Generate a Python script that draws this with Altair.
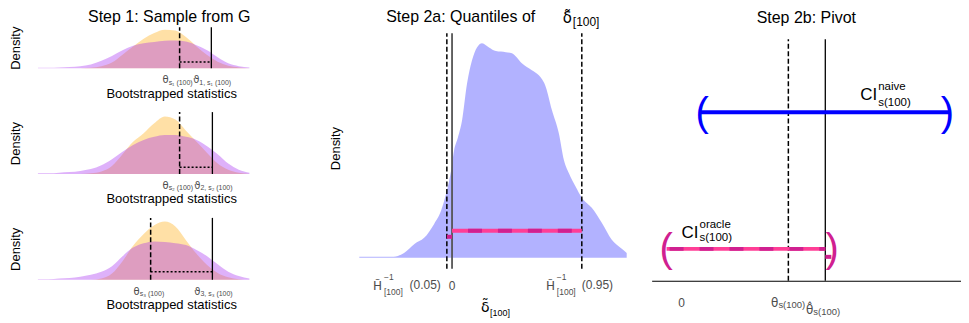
import altair as alt
import pandas as pd

FONT = "Liberation Sans"
MATH = "DejaVu Sans"
GREY = "#4D4D4D"
ORANGE = "#FFA500"
PURPLE = "#A020F0"
BLUE = "#0000FF"
VIOLETRED = "#D02090"
VIOLETRED1 = "#FF3E96"

# ---------------- Step 1: bootstrapped densities ----------------
u_grid = [0, 0.5, 1, 1.5, 2, 2.5, 3, 3.5, 4, 4.5, 5, 5.5, 6, 6.5, 7, 7.5, 8, 8.5, 9, 9.5, 10]
purple_1 = [0.01, 0.01, 0.02, 0.03, 0.05, 0.09, 0.18, 0.30, 0.44, 0.55, 0.61, 0.64, 0.67, 0.68, 0.65, 0.56, 0.44, 0.27, 0.12, 0.05, 0.02]
orange_1 = [0, 0, 0, 0, 0, 0.01, 0.05, 0.14, 0.33, 0.53, 0.72, 0.86, 0.94, 0.92, 0.76, 0.53, 0.32, 0.16, 0.06, 0.02, 0]
purple_2 = [0.01, 0.01, 0.02, 0.03, 0.05, 0.08, 0.14, 0.24, 0.36, 0.47, 0.55, 0.60, 0.63, 0.63, 0.60, 0.55, 0.45, 0.32, 0.17, 0.07, 0.02]
orange_2 = [0, 0, 0, 0, 0, 0.01, 0.04, 0.13, 0.32, 0.52, 0.66, 0.82, 0.93, 0.88, 0.70, 0.52, 0.34, 0.17, 0.07, 0.02, 0]
purple_3 = [0.01, 0.01, 0.02, 0.03, 0.05, 0.08, 0.13, 0.22, 0.38, 0.52, 0.59, 0.62, 0.61, 0.59, 0.56, 0.48, 0.38, 0.25, 0.13, 0.06, 0.02]
orange_3 = [0, 0, 0, 0, 0, 0, 0.02, 0.10, 0.30, 0.55, 0.74, 0.88, 0.94, 0.86, 0.64, 0.42, 0.24, 0.11, 0.04, 0.01, 0]
theta_pos = [6.7, 6.7, 5.33]
vartheta_pos = [8.2, 8.25, 8.25]
dotted_y = [0.15, 0.11, 0.13]
sub_digits = ["\u2081", "\u2082", "\u2083"]

# ---------------- Step 2a: density of delta ----------------
delta_x = [-0.715, -0.45, -0.37, -0.29, -0.215, -0.138, -0.085, -0.046, -0.008, 0.015, 0.045,
           0.077, 0.115, 0.154, 0.192, 0.231, 0.285, 0.338, 0.415, 0.462, 0.538, 0.615, 0.669,
           0.723, 0.769, 0.823, 0.862, 0.9, 0.954, 1.0, 1.077, 1.154, 1.231, 1.308, 1.346]
delta_dens = [0.005, 0.005, 0.023, 0.065, 0.093, 0.158, 0.219, 0.298, 0.405, 0.498, 0.56,
              0.64, 0.81, 0.92, 0.98, 1.0, 0.98, 0.963, 0.958, 0.953, 0.907, 0.874, 0.85,
              0.795, 0.69, 0.58, 0.456, 0.395, 0.33, 0.28, 0.233, 0.163, 0.084, 0.042, 0.023]
q05 = -0.04
q95 = 1.0
bar_y = 0.126
seg_y = 0.098

# ---------------- Step 2b: pivot ----------------
theta = 0.743
theta_hat = 1.0
naive_ci = [0.132, 1.868]
naive_y = 0.698
oracle_ci = [-0.104, 1.0]
oracle_y = 0.132
oracle_seg = [1.0, 1.042]
oracle_seg_y = 0.099


def txt(df, xs, ys, xax, yax, field, size, color, align, dx, dy, font=FONT, weight="normal"):
    return alt.Chart(df).mark_text(
        font=font, fontSize=size, color=color, align=align, baseline="alphabetic",
        dx=dx, dy=dy, fontWeight=weight
    ).encode(
        x=alt.X("x:Q", scale=xs, axis=xax),
        y=alt.Y("y:Q", scale=ys, axis=yax),
        text=alt.Text(f"{field}:N"),
    )


def title_axis(title, pad):
    return alt.Axis(title=title, labels=False, ticks=False, domain=False, grid=False,
                    titleFont=FONT, titleFontSize=13, titleFontWeight="normal",
                    titleColor="black", titlePadding=pad)


def step1_panel(k, purple, orange, th, vt, dot_y, h):
    xs = alt.Scale(domain=[0, 12.6], nice=False, zero=False)
    ys = alt.Scale(domain=[0, 1], nice=False, zero=False)
    xax = title_axis("Bootstrapped statistics", 19)
    yax = title_axis("Density", 15)
    df_o = pd.DataFrame({"u": u_grid, "dens": orange})
    df_p = pd.DataFrame({"u": u_grid, "dens": purple})
    a_o = alt.Chart(df_o).mark_area(color=ORANGE, opacity=0.35, interpolate="monotone").encode(
        x=alt.X("u:Q", scale=xs, axis=xax), y=alt.Y("dens:Q", scale=ys, axis=yax))
    a_p = alt.Chart(df_p).mark_area(color=PURPLE, opacity=0.35, interpolate="monotone").encode(
        x=alt.X("u:Q", scale=xs, axis=xax), y=alt.Y("dens:Q", scale=ys, axis=yax))
    ldf = pd.DataFrame({"th": [th], "vt": [vt], "y0": [0], "y1": [1], "dy": [dot_y]})
    dashed = alt.Chart(ldf).mark_rule(color="black", strokeWidth=1.5, strokeDash=[5, 2.5]).encode(
        x=alt.X("th:Q", scale=xs, axis=xax), y=alt.Y("y0:Q", scale=ys, axis=yax), y2="y1:Q")
    solid = alt.Chart(ldf).mark_rule(color="black", strokeWidth=1.3).encode(
        x=alt.X("vt:Q", scale=xs, axis=xax), y=alt.Y("y0:Q", scale=ys, axis=yax), y2="y1:Q")
    dotted = alt.Chart(ldf).mark_rule(color="black", strokeWidth=1.5, strokeDash=[2, 2]).encode(
        x=alt.X("th:Q", scale=xs, axis=xax), x2="vt:Q", y=alt.Y("dy:Q", scale=ys, axis=yax))
    sd = sub_digits[k - 1]
    lab_t = pd.DataFrame({"x": [th], "y": [0], "main": ["\u03b8"], "sub": [f"s{sd} (100)"]})
    lab_v = pd.DataFrame({"x": [vt], "y": [0], "main": ["\u03d1"], "sub": [f"{k}, s{sd} (100)"]})
    layers = [a_o, a_p, dashed, solid, dotted,
              txt(lab_t, xs, ys, xax, yax, "main", 10, GREY, "right", -11, 15, MATH),
              txt(lab_t, xs, ys, xax, yax, "sub", 7, GREY, "left", -11, 16.5),
              txt(lab_v, xs, ys, xax, yax, "main", 10, GREY, "right", -12, 15, MATH),
              txt(lab_v, xs, ys, xax, yax, "sub", 7, GREY, "left", -12, 16.5)]
    return alt.layer(*layers).properties(width=267, height=h)


p1 = step1_panel(1, purple_1, orange_1, theta_pos[0], vartheta_pos[0], dotted_y[0], 41)
p2 = step1_panel(2, purple_2, orange_2, theta_pos[1], vartheta_pos[1], dotted_y[1], 62)
p3 = step1_panel(3, purple_3, orange_3, theta_pos[2], vartheta_pos[2], dotted_y[2], 62)
left = alt.vconcat(p1, p2, p3, spacing=44, bounds="flush",
                   title=alt.TitleParams("Step 1: Sample from G", fontSize=16, font=FONT,
                                         fontWeight="normal", color="black", offset=1,
                                         anchor="middle", dx=12))

# ---------------- middle panel ----------------
xs_m = alt.Scale(domain=[-0.715, 1.346], nice=False, zero=False)
ys_m = alt.Scale(domain=[-0.051, 1.074], nice=False, zero=False)
xax_m = None
yax_m = title_axis("Density", 17)
mdf = pd.DataFrame({"d": delta_x, "dens": delta_dens, "base": [0] * len(delta_x)})
m_area = alt.Chart(mdf).mark_area(color=BLUE, opacity=0.3, interpolate="monotone").encode(
    x=alt.X("d:Q", scale=xs_m, axis=xax_m), y=alt.Y("dens:Q", scale=ys_m, axis=yax_m), y2="base:Q")
q_df = pd.DataFrame({"q": [q05, q95], "lo": [-0.051, -0.051], "hi": [1.0465, 1.0465]})
zero_df = pd.DataFrame({"q": [0.0], "lo": [-0.051], "hi": [1.0465]})
m_dashed = alt.Chart(q_df).mark_rule(color="black", strokeWidth=1.5, strokeDash=[5, 2.5]).encode(
    x=alt.X("q:Q", scale=xs_m, axis=xax_m), y=alt.Y("lo:Q", scale=ys_m, axis=yax_m), y2="hi:Q")
m_zero = alt.Chart(zero_df).mark_rule(color="#555555", strokeWidth=1.8).encode(
    x=alt.X("q:Q", scale=xs_m, axis=xax_m), y=alt.Y("lo:Q", scale=ys_m, axis=yax_m), y2="hi:Q")
bar_df = pd.DataFrame({"lo": [0.0], "hi": [q95], "y": [bar_y]})
seg_df = pd.DataFrame({"lo": [q05], "hi": [0.0], "y": [seg_y]})


def mline(df, color, dash=None, offset=0):
    kw = dict(color=color, strokeWidth=4)
    if dash:
        kw.update(strokeDash=dash, strokeDashOffset=offset)
    return alt.Chart(df).mark_rule(**kw).encode(
        x=alt.X("lo:Q", scale=xs_m, axis=xax_m), x2="hi:Q", y=alt.Y("y:Q", scale=ys_m, axis=yax_m))


lab05 = pd.DataFrame({"x": [q05], "y": [-0.051], "H": ["H\u0303"], "sup": ["\u22121"], "sub": ["[100]"], "p": ["(0.05)"]})
lab95 = pd.DataFrame({"x": [q95], "y": [-0.051], "H": ["H\u0303"], "sup": ["\u22121"], "sub": ["[100]"], "p": ["(0.95)"]})
lab0 = pd.DataFrame({"x": [0.0], "y": [-0.051], "t": ["0"]})
mid_title = pd.DataFrame({"a": ["Step 2a: Quantiles of"], "b": ["\u03b4\u0303"], "c": ["[100]"]})
mid_xtitle = pd.DataFrame({"a": ["\u03b4\u0303"], "b": ["[100]"]})


def vtext(df, field, size, font, x, y, color="black"):
    return alt.Chart(df).mark_text(font=font, fontSize=size, color=color, align="left",
                                   baseline="alphabetic").encode(
        x=alt.value(x), y=alt.value(y), text=f"{field}:N")


m_labels = [
    txt(lab05, xs_m, ys_m, xax_m, yax_m, "H", 12, GREY, "left", -74, 21, MATH),
    txt(lab05, xs_m, ys_m, xax_m, yax_m, "sup", 8.5, GREY, "left", -63, 11),
    txt(lab05, xs_m, ys_m, xax_m, yax_m, "sub", 8.5, GREY, "left", -63, 26),
    txt(lab05, xs_m, ys_m, xax_m, yax_m, "p", 12, GREY, "right", -6, 20.5),
    txt(lab0, xs_m, ys_m, xax_m, yax_m, "t", 12, GREY, "center", 0, 21),
    txt(lab95, xs_m, ys_m, xax_m, yax_m, "H", 12, GREY, "left", -36, 21, MATH),
    txt(lab95, xs_m, ys_m, xax_m, yax_m, "sup", 8.5, GREY, "left", -25, 11),
    txt(lab95, xs_m, ys_m, xax_m, yax_m, "sub", 8.5, GREY, "left", -25, 26),
    txt(lab95, xs_m, ys_m, xax_m, yax_m, "p", 12, GREY, "left", 0, 20.5),
    vtext(mid_xtitle, "a", 14, MATH, 122, 285),
    vtext(mid_xtitle, "b", 9, FONT, 131, 289),
    vtext(mid_title, "a", 16, FONT, 27, -5),
    vtext(mid_title, "b", 15, MATH, 204, -4),
    vtext(mid_title, "c", 12, FONT, 214, -1),
]
mid = alt.layer(m_area, m_dashed, m_zero, mline(bar_df, VIOLETRED1),
                mline(bar_df, VIOLETRED, [14, 16], 14), mline(seg_df, VIOLETRED),
                *m_labels).properties(width=268, height=242)

# ---------------- right panel ----------------
xs_r = alt.Scale(domain=[-0.208, 1.944], nice=False, zero=False)
ys_r = alt.Scale(domain=[0, 1.0496], nice=False, zero=False)
xax_r = alt.Axis(title=None, labels=False, ticks=False, grid=False, domain=True,
                 domainColor="black", domainWidth=1.2)
yax_r = None
r_rules = pd.DataFrame({"x": [theta, theta_hat], "y0": [0, 0], "y1": [1, 1]})
r_dash = alt.Chart(r_rules.iloc[[0]]).mark_rule(color="black", strokeWidth=1.5, strokeDash=[5, 2.5]).encode(
    x=alt.X("x:Q", scale=xs_r, axis=xax_r), y=alt.Y("y0:Q", scale=ys_r, axis=yax_r), y2="y1:Q")
r_solid = alt.Chart(r_rules.iloc[[1]]).mark_rule(color="black", strokeWidth=1.3).encode(
    x=alt.X("x:Q", scale=xs_r, axis=xax_r), y=alt.Y("y0:Q", scale=ys_r, axis=yax_r), y2="y1:Q")
naive_df = pd.DataFrame({"lo": [naive_ci[0]], "hi": [naive_ci[1]], "y": [naive_y]})
oracle_df = pd.DataFrame({"lo": [oracle_ci[0]], "hi": [oracle_ci[1]], "y": [oracle_y]})
oseg_df = pd.DataFrame({"lo": [oracle_seg[0]], "hi": [oracle_seg[1]], "y": [oracle_seg_y]})


def hline(df, color, dash=None, offset=0):
    kw = dict(color=color, strokeWidth=4)
    if dash:
        kw.update(strokeDash=dash, strokeDashOffset=offset)
    return alt.Chart(df).mark_rule(**kw).encode(
        x=alt.X("lo:Q", scale=xs_r, axis=xax_r), x2="hi:Q", y=alt.Y("y:Q", scale=ys_r, axis=yax_r))


paren_naive_l = pd.DataFrame({"x": [naive_ci[0]], "y": [naive_y], "t": ["("]})
paren_naive_r = pd.DataFrame({"x": [naive_ci[1]], "y": [naive_y], "t": [")"]})
paren_or_l = pd.DataFrame({"x": [oracle_ci[0]], "y": [oracle_y], "t": ["("]})
paren_or_r = pd.DataFrame({"x": [oracle_ci[1]], "y": [oracle_y], "t": [")"]})
naive_lab = pd.DataFrame({"x": [naive_ci[1]], "y": [naive_y], "ci": ["CI"], "sup": ["naive"], "sub": ["s(100)"]})
oracle_lab = pd.DataFrame({"x": [oracle_ci[0]], "y": [oracle_y], "ci": ["CI"], "sup": ["oracle"], "sub": ["s(100)"]})
r_x0 = pd.DataFrame({"x": [0.0], "y": [0.0], "t": ["0"]})
r_xt = pd.DataFrame({"x": [theta], "y": [0.0], "m": ["\u03b8"], "s": ["s(100)"]})
r_xh = pd.DataFrame({"x": [theta_hat], "y": [0.0], "m": ["\u03b8\u0302"], "s": ["s(100)"]})


def rt(df, field, size, color, align, dx, dy, font=FONT, weight="normal"):
    return txt(df, xs_r, ys_r, xax_r, yax_r, field, size, color, align, dx, dy, font, weight)


r_layers = [
    r_dash, r_solid,
    hline(naive_df, BLUE),
    rt(paren_naive_l, "t", 40, BLUE, "center", 1.5, 13.5),
    rt(paren_naive_r, "t", 40, BLUE, "center", -2.7, 13.5),
    hline(oracle_df, VIOLETRED1),
    hline(oracle_df, VIOLETRED, [14, 16], 27),
    hline(oseg_df, VIOLETRED),
    rt(paren_or_l, "t", 40, VIOLETRED, "center", -0.5, 13.5),
    rt(paren_or_r, "t", 40, VIOLETRED, "center", 6.8, 13.5),
    rt(naive_lab, "ci", 17, "black", "left", -90, -12),
    rt(naive_lab, "sup", 11.5, "black", "left", -72, -22),
    rt(naive_lab, "sub", 11.5, "black", "left", -72, -6),
    rt(oracle_lab, "ci", 17, "black", "left", 15, -11),
    rt(oracle_lab, "sup", 11.5, "black", "left", 33, -21),
    rt(oracle_lab, "sub", 11.5, "black", "left", 33, -8),
    rt(r_x0, "t", 12, GREY, "center", 0, 26),
    rt(r_xt, "m", 12, GREY, "right", -10, 26, MATH),
    rt(r_xt, "s", 9.5, GREY, "left", -10, 27.5),
    rt(r_xh, "m", 12, GREY, "right", -12, 33, MATH),
    rt(r_xh, "s", 9.5, GREY, "left", -12, 34),
]
right = alt.layer(*r_layers).properties(
    width=310, height=254,
    title=alt.TitleParams("Step 2b: Pivot", fontSize=16, font=FONT, fontWeight="normal",
                          color="black", offset=1, anchor="middle"))

chart = alt.hconcat(left, mid, right, spacing=25).properties(
    padding={"left": 2, "top": 0, "right": 0, "bottom": 0},
    background="white",
).configure_view(stroke="transparent", strokeWidth=0)

chart.save("out.html", embed_options={"renderer": "svg", "actions": False})
